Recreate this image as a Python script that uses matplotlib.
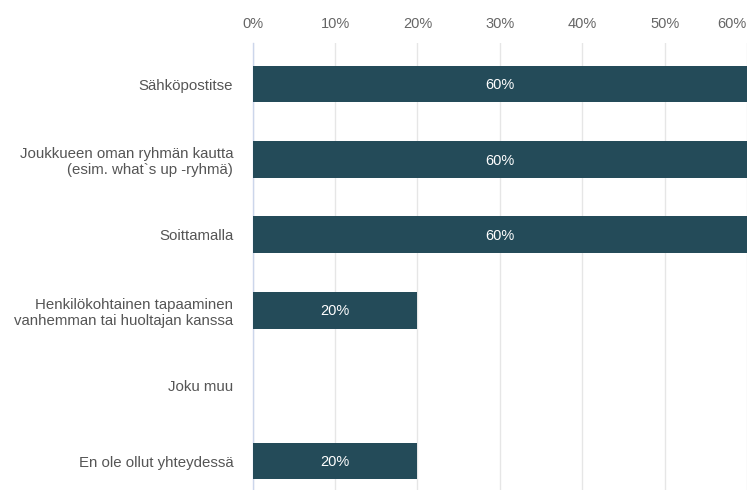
import numpy as np
import matplotlib.pyplot as plt
from matplotlib.ticker import FuncFormatter

categories = ['Sähköpostitse',
              'Joukkueen oman ryhmän kautta\n(esim. what`s up -ryhmä)',
              'Soittamalla',
              'Henkilökohtainen tapaaminen\nvanhemman tai huoltajan kanssa',
              'Joku muu',
              'En ole ollut yhteydessä']
values = [60, 60, 60, 20, 0, 20]
ticks = [0, 10, 20, 30, 40, 50, 60]

plt.rcParams['font.family'] = ['Liberation Sans', 'DejaVu Sans']

W, H = 747, 490
fig = plt.figure(figsize=(W / 100, H / 100), dpi=100)
# pixel geometry of the plot area
x0, px10 = 252.7, 82.4
top, bottom = 43, 490
ax = fig.add_axes([x0 / W, 1 - bottom / H, (W - x0) / W, (bottom - top) / H])

y = np.arange(len(categories))
bars = ax.barh(y, values, height=0.49, color='#244b59', zorder=3)

for yi, v in zip(y, values):
    if v > 0:
        ax.text(v / 2, yi + 0.015, f'{v}%', ha='center', va='center', color='white',
                fontsize=10.5, zorder=4)

ax.set_xlim(0, (W - x0) / px10 * 10)
row = 75.4
ax.set_ylim((bottom - 84) / row, (top - 84) / row)

ax.set_yticks(y)
ax.set_yticklabels(categories, fontsize=10.8, color='#555555', linespacing=1.2)
ax.tick_params(axis='y', length=0, pad=14)

ax.xaxis.tick_top()
ax.set_xticks(ticks)
ax.xaxis.set_major_formatter(FuncFormatter(lambda v, p: f'{v:.0f}%'))
ax.tick_params(axis='x', length=0, pad=9, labelsize=10.5, labelcolor='#666666')
lab = ax.get_xticklabels()
lab[-1].set_horizontalalignment('right')

ax.grid(axis='x', color='#e6e6e6', linewidth=1, zorder=0)
ax.grid(axis='y', visible=False)
for s in ['top', 'right', 'bottom']:
    ax.spines[s].set_visible(False)
ax.spines['left'].set_color('#ccd6eb')
ax.spines['left'].set_linewidth(1)

fig.savefig('out.png', dpi=100)
